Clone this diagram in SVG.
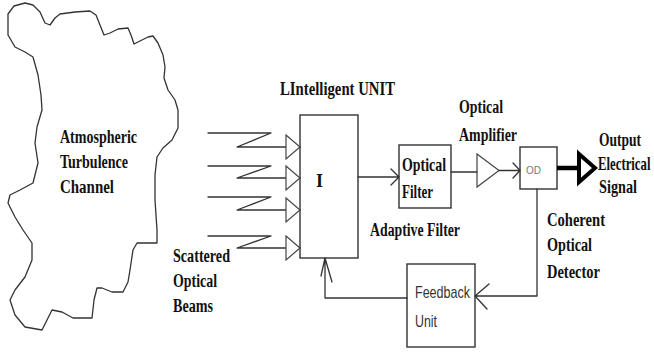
<svg xmlns="http://www.w3.org/2000/svg" width="654" height="358" viewBox="0 0 654 358">
<defs>
<style>
.s{font-family:"Liberation Serif",serif;font-weight:bold;font-size:18px;fill:#111}
.a{font-family:"Liberation Sans",Arial,sans-serif;font-size:17px;fill:#333}
.ln{fill:none;stroke:#333;stroke-width:1.3;stroke-linejoin:round;stroke-linecap:round}
.bx{fill:#fff;stroke:#333;stroke-width:1.4}
.tri{fill:#fff;stroke:#444;stroke-width:1.2}
</style>
</defs>
<rect width="654" height="358" fill="#fff"/>
<g id="channel">
<path class="ln" stroke="#555" d="M8,35 L8,14 L14,6 L25,3 L33,5 L40,12 L45,23 L50,25 L55,18 L60,14 L75,12 L90,11 L96,15 L100,25 L104,35 L110,33 L118,29 L128,28 L131,35 L134,44 L140,41 L148,37 L153,36 L158,43 L163,55 L165,67 L164,78 L168,90 L175,100 L178,110 L178,128 L172,140 L163,148 L157,157 L155,175 L155,200 L157,230 L157,243 L147,243 L137,243 L133,250 L130,270 L128,282 L123,292 L112,292 L102,288 L97,288 L94,300 L92,318 L73,318 L62,312 L52,310 L48,318 L42,330 L25,327 L15,315 L10,300 L15,290 L25,277 L32,260 L32,243 L23,230 L15,217 L8,203 L10,195 L20,190 L33,183 L38,163 L35,143 L37,127 L42,110 L41,95 L38,75 L33,57 L25,52 L15,47 Z"/>
<text class="s" x="60" y="143" textLength="77" lengthAdjust="spacingAndGlyphs">Atmospheric</text>
<text class="s" x="60" y="168" textLength="68" lengthAdjust="spacingAndGlyphs">Turbulence</text>
<text class="s" x="60" y="193" textLength="54" lengthAdjust="spacingAndGlyphs">Channel</text>
</g>
<g id="beams">
<text class="s" x="173" y="262" textLength="57" lengthAdjust="spacingAndGlyphs">Scattered</text>
<text class="s" x="173" y="287" textLength="44" lengthAdjust="spacingAndGlyphs">Optical</text>
<text class="s" x="173" y="312" textLength="40" lengthAdjust="spacingAndGlyphs">Beams</text>
</g>
<g id="intelligent-unit">
<rect class="bx" x="300" y="115" width="58" height="143"/>
<text class="s" x="316" y="187">I</text>
<text class="s" x="280" y="95" textLength="115" lengthAdjust="spacingAndGlyphs">LIntelligent UNIT</text>
</g>
<g id="optical-filter">
<rect class="bx" x="399" y="145" width="52" height="63"/>
<text class="s" x="402" y="171" textLength="44" lengthAdjust="spacingAndGlyphs">Optical</text>
<text class="s" x="402" y="198" textLength="31" lengthAdjust="spacingAndGlyphs">Filter</text>
<text class="s" x="370" y="236" textLength="90" lengthAdjust="spacingAndGlyphs">Adaptive Filter</text>
</g>
<g id="optical-amplifier">
<polygon class="tri" points="477,154 477,187 499,170.5"/>
<text class="s" x="459" y="113" textLength="44" lengthAdjust="spacingAndGlyphs">Optical</text>
<text class="s" x="459" y="141" textLength="58" lengthAdjust="spacingAndGlyphs">Amplifier</text>
</g>
<g id="detector">
<rect class="bx" x="520" y="147" width="37" height="42" stroke="#777"/>
<text x="526" y="174" font-family="Liberation Sans,Arial,sans-serif" font-size="10" fill="#777">OD</text>
<text class="s" x="547" y="226" textLength="58" lengthAdjust="spacingAndGlyphs">Coherent</text>
<text class="s" x="547" y="251" textLength="45" lengthAdjust="spacingAndGlyphs">Optical</text>
<text class="s" x="547" y="278" textLength="53" lengthAdjust="spacingAndGlyphs">Detector</text>
</g>
<g id="output">
<text class="s" x="599" y="146" textLength="42" lengthAdjust="spacingAndGlyphs">Output</text>
<text class="s" transform="translate(598,170) scale(0.71,1)" x="0" y="0">Electrical</text>
<text class="s" x="599" y="193" textLength="38" lengthAdjust="spacingAndGlyphs">Signal</text>
</g>
<g id="feedback-unit">
<rect class="bx" x="407" y="264" width="68" height="83"/>
<text class="a" x="415" y="298" textLength="55" lengthAdjust="spacingAndGlyphs">Feedback</text>
<text class="a" x="415" y="327" textLength="22" lengthAdjust="spacingAndGlyphs">Unit</text>
</g>
<g id="connectors">
<path class="ln" d="M208,133 H271 L237,147 H300 M208,166 H271 L237,178 H300 M208,197 H271 L237,210 H300 M208,236 H271 L237,248 H300"/>
<polygon class="tri" points="286,135 300,147 286,159"/>
<polygon class="tri" points="286,166 300,178 286,190"/>
<polygon class="tri" points="286,198 300,210 286,222"/>
<polygon class="tri" points="286,236 300,248 286,260"/>
<path class="ln" d="M358,177 H399 M391,169 L399,177 L391,185"/>
<path class="ln" d="M451,172 H477"/>
<path class="ln" d="M499,170.5 H520 M513,163 L520,170.5 L513,178"/>
<path d="M557,168 H580" stroke="#000" stroke-width="4.5" fill="none"/>
<polygon points="579,154 595,168 579,182" fill="#fff" stroke="#000" stroke-width="4" stroke-linejoin="miter"/>
<path class="ln" d="M537,189 V296 H475 M489,284 L475,296 L487,309"/>
<path class="ln" d="M407,298 H325 V258 M321,276 L325,258 L332,282"/>
</g>
</svg>
